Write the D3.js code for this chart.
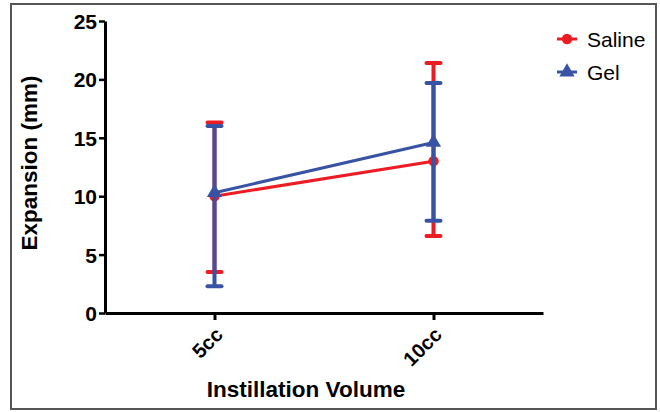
<!DOCTYPE html>
<html>
<head>
<meta charset="utf-8">
<script src="https://cdn.jsdelivr.net/npm/d3@7"></script>
<style>
  body { margin: 0; background: #fff; }
  svg text { font-family: "Liberation Sans", Arial, sans-serif; }
</style>
</head>
<body>
<div id="chart"></div>
<script>
// chart data
var categories = ["5cc", "10cc"];
var salineMean = [10.0, 13.0];
var salineLow = [3.5, 6.6];
var salineHigh = [16.3, 21.4];
var gelMean = [10.3, 14.6];
var gelLow = [2.3, 7.9];
var gelHigh = [16.0, 19.7];
var yTicks = [0, 5, 10, 15, 20, 25];

var red = "#ec1c24", blue = "#3953a4";

var svg = d3.select("#chart").append("svg")
  .attr("width", 660).attr("height", 412);

// outer frame
svg.append("rect")
  .attr("x", 11).attr("y", 4).attr("width", 645).attr("height", 405)
  .attr("fill", "none").attr("stroke", "#555").attr("stroke-width", 2);

var x = d3.scalePoint().domain(categories).range([105, 543]).padding(0.5);
var y = d3.scaleLinear().domain([0, 25]).range([313, 21]);

// y axis
var yAxis = svg.append("g").attr("transform", "translate(105,0)")
  .call(d3.axisLeft(y).tickValues(yTicks).tickSize(6).tickSizeOuter(0));
yAxis.select(".domain").attr("stroke", "#000").attr("stroke-width", 3);
yAxis.selectAll(".tick line").attr("stroke", "#000").attr("stroke-width", 2.5);
yAxis.selectAll(".tick text")
  .attr("x", -8).attr("dy", "0.36em")
  .attr("font-size", 21).attr("font-weight", "bold").attr("fill", "#000");

// x axis
var xAxis = svg.append("g").attr("transform", "translate(0,313)")
  .call(d3.axisBottom(x).tickSize(7).tickSizeOuter(0));
xAxis.select(".domain").attr("stroke", "#000").attr("stroke-width", 3);
xAxis.selectAll(".tick line").attr("stroke", "#000").attr("stroke-width", 3);
xAxis.selectAll(".tick text")
  .attr("font-size", 20).attr("font-weight", "bold").attr("fill", "#000")
  .attr("text-anchor", "end").attr("dy", 0).attr("y", 0)
  .attr("transform", "translate(9,23) rotate(-45)");

// axis titles
svg.append("text")
  .attr("transform", "translate(37,163) rotate(-90)")
  .attr("text-anchor", "middle")
  .attr("font-size", 22.5).attr("font-weight", "bold")
  .text("Expansion (mm)");
svg.append("text")
  .attr("x", 306).attr("y", 397)
  .attr("text-anchor", "middle")
  .attr("font-size", 22.5).attr("font-weight", "bold")
  .text("Instillation Volume");

function series(mean, lo, hi, color) {
  var g = svg.append("g");
  var pts = categories.map(function(c, i) {
    return { c: c, m: mean[i], lo: lo[i], hi: hi[i] };
  });
  g.selectAll("line.err").data(pts).enter().append("line")
    .attr("x1", function(d) { return x(d.c); })
    .attr("x2", function(d) { return x(d.c); })
    .attr("y1", function(d) { return y(d.lo); })
    .attr("y2", function(d) { return y(d.hi); })
    .attr("stroke", color).attr("stroke-width", 4);
  ["lo", "hi"].forEach(function(k) {
    g.selectAll("line.cap" + k).data(pts).enter().append("line")
      .attr("x1", function(d) { return x(d.c) - 7; })
      .attr("x2", function(d) { return x(d.c) + 7; })
      .attr("y1", function(d) { return y(d[k]); })
      .attr("y2", function(d) { return y(d[k]); })
      .attr("stroke", color).attr("stroke-width", 4)
      .attr("stroke-linecap", "round");
  });
  return { g: g, pts: pts };
}

function drawLine(s, color, shape) {
  s.g.append("path").datum(s.pts)
    .attr("d", d3.line().x(function(d) { return x(d.c); }).y(function(d) { return y(d.m); }))
    .attr("fill", "none").attr("stroke", color).attr("stroke-width", 3);
  s.g.selectAll("path.mk").data(s.pts).enter().append("path")
    .attr("transform", function(d) { return "translate(" + x(d.c) + "," + y(d.m) + ")"; })
    .attr("d", d3.symbol().type(shape).size(shape === d3.symbolCircle ? 85 : 100))
    .attr("fill", color);
}

var sal = series(salineMean, salineLow, salineHigh, red);
var gel = series(gelMean, gelLow, gelHigh, blue);
drawLine(sal, red, d3.symbolCircle);
drawLine(gel, blue, d3.symbolTriangle);

// legend
var legend = [
  { name: "Saline", color: red, shape: d3.symbolCircle, y: 39 },
  { name: "Gel", color: blue, shape: d3.symbolTriangle, y: 72 }
];
var lg = svg.append("g").selectAll("g").data(legend).enter().append("g")
  .attr("transform", function(d) { return "translate(567," + d.y + ")"; });
lg.append("line").attr("x1", -10).attr("x2", 10)
  .attr("stroke", function(d) { return d.color; }).attr("stroke-width", 3);
lg.append("path")
  .attr("d", function(d) { return d3.symbol().type(d.shape).size(d.shape === d3.symbolCircle ? 85 : 100)(); })
  .attr("fill", function(d) { return d.color; });
lg.append("text").attr("x", 20).attr("dy", "0.36em")
  .attr("font-size", 21).attr("fill", "#000")
  .text(function(d) { return d.name; });
</script>
</body>
</html>
